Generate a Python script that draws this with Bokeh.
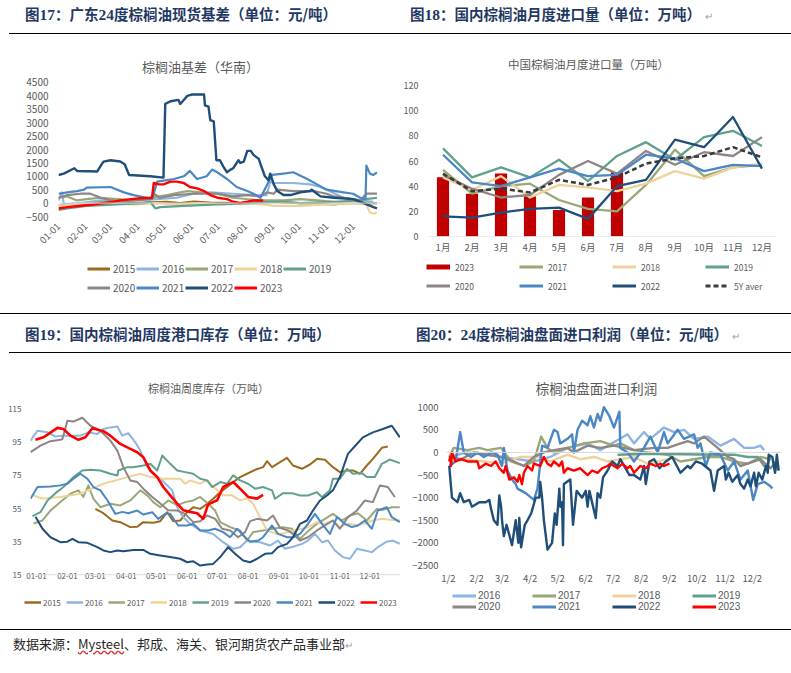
import math
from bokeh.plotting import figure
from bokeh.models import Range1d, FixedTicker, Span, Label, Legend, LegendItem, Div
from bokeh.layouts import column, row
from bokeh.embed import file_html
from bokeh.resources import INLINE

FONT = "Noto Sans CJK SC"
NUMFONT = "Liberation Sans"
GREY = "#595959"

COLORS = {"2015": "#9C6A1E", "2016": "#8DB5E0", "2017": "#9AA777", "2018": "#EDD39B",
          "2019": "#61A08C", "2020": "#8F8585", "2021": "#4A87C4", "2022": "#1F4E79",
          "2023": "#FF0000"}

# ---------------- Chart 17: basis (South China), day-of-year vs yuan/t ----------------
basis_ticks = [0, 31, 59, 90, 120, 151, 181, 212, 243, 273, 304, 334]
basis_tick_labels = ["01-01", "02-01", "03-01", "04-01", "05-01", "06-01",
                     "07-01", "08-01", "09-01", "10-01", "11-01", "12-01"]
basis_yticks = [-500, 0, 500, 1000, 1500, 2000, 2500, 3000, 3500, 4000, 4500]
basis_x_2015 = [0, 25, 48, 66, 85, 104, 123, 138, 153, 172, 198, 236, 274, 312, 327, 361]
basis_y_2015 = [-100, -20, 50, 10, 0, 30, 50, 0, 60, 20, 0, 50, 0, -50, 0, 0]
basis_x_2016 = [0, 4, 6, 25, 48, 85, 112, 134, 153, 172, 198, 221, 236, 240, 244, 266, 285, 297, 304, 323, 342, 357]
basis_y_2016 = [100, 400, -50, 0, 100, 100, 150, 200, 350, 400, 350, 300, 300, 800, 750, 750, 700, 600, 500, 200, 100, 50]
basis_x_2017 = [0, 10, 21, 32, 48, 66, 85, 104, 123, 138, 146, 161, 180, 198, 229, 255, 274, 293, 312, 349, 361]
basis_y_2017 = [200, 250, 100, 150, 200, 150, 100, 200, 300, 400, 450, 400, 350, 200, 100, 100, 150, 100, 50, 0, 0]
basis_x_2018 = [0, 25, 59, 85, 110, 134, 161, 187, 210, 232, 244, 274, 304, 334, 349, 353, 357, 361]
basis_y_2018 = [-100, -50, 0, -50, 0, -50, 0, -50, 0, -50, -100, -100, -50, 0, -50, -350, -400, -350]
basis_x_2019 = [0, 10, 32, 66, 97, 104, 110, 115, 142, 180, 217, 255, 274, 312, 342, 349, 361]
basis_y_2019 = [-250, -200, -100, -50, 0, 50, -200, -150, -100, -50, 0, 50, 0, 50, 100, 150, 200]
basis_x_2020 = [0, 10, 25, 36, 48, 59, 70, 85, 104, 108, 115, 131, 153, 180, 198, 214, 229, 236, 244, 248, 266, 289, 304, 312, 334, 342, 349, 361]
basis_y_2020 = [200, 300, 350, 350, 200, 100, 50, 100, 150, 350, 200, 300, 350, 350, 250, 300, 250, 400, 350, 500, 450, 450, 350, 250, 150, 100, 350, 350]
basis_x_2021 = [0, 10, 21, 29, 32, 59, 74, 85, 100, 106, 112, 131, 142, 149, 157, 168, 174, 180, 191, 202, 214, 221, 229, 242, 255, 266, 282, 293, 304, 323, 334, 342, 348, 349, 353, 357, 361]
basis_y_2021 = [350, 400, 450, 500, 580, 600, 400, 300, 200, 150, 800, 900, 1000, 1200, 900, 1000, 1250, 1150, 900, 600, 450, 350, 200, 1050, 1100, 1150, 900, 700, 500, 400, 350, 200, 150, 1400, 1100, 1050, 1150]
basis_x_2022 = [0, 6, 18, 21, 44, 48, 51, 59, 70, 75, 80, 104, 119, 121, 127, 136, 138, 142, 146, 151, 165, 166, 170, 172, 176, 179, 183, 187, 191, 195, 198, 202, 204, 206, 210, 214, 218, 221, 227, 229, 234, 238, 240, 244, 248, 255, 263, 274, 285, 287, 297, 312, 334, 346, 357, 361]
basis_y_2022 = [1050, 1100, 1300, 1200, 1180, 1400, 1550, 1600, 1550, 1450, 1050, 1000, 950, 3700, 3800, 3850, 3700, 3850, 4000, 4050, 4050, 3650, 3600, 3100, 3050, 1600, 1600, 1350, 1150, 1250, 1300, 1500, 1600, 1500, 1550, 1950, 1950, 1800, 1650, 1450, 1000, 850, 1100, 700, 450, 300, 300, 400, 450, 500, 250, 200, 150, 0, -150, -200]
basis_x_2023 = [0, 10, 25, 40, 51, 63, 70, 82, 93, 106, 108, 114, 119, 127, 134, 142, 149, 157, 165, 172, 180, 191, 198, 206, 214, 221, 232]
basis_y_2023 = [-200, -150, -100, -50, 0, 50, 100, 150, 180, 200, 750, 700, 700, 800, 800, 750, 600, 550, 450, 300, 200, 150, 50, 0, 50, 100, 100]

# ---------------- Chart 18: monthly imports (10k t) ----------------
months = [1, 2, 3, 4, 5, 6, 7, 8, 9, 10, 11, 12]
month_labels = ["1月", "2月", "3月", "4月", "5月", "6月", "7月", "8月", "9月", "10月", "11月", "12月"]
imp_yticks = [0, 20, 40, 60, 80, 100, 120]
imp_2023 = [47, 34, 50, 32, 21, 31, 51]
imp_2017 = [53, 34, 40, 42, 29, 22, 20, 41, 69, 48, 55, 57]
imp_2018 = [47, 37, 48, 31, 41, 39, 36, 42, 52, 46, 55, 58]
imp_2019 = [70, 47, 55, 47, 61, 44, 64, 75, 61, 79, 84, 72]
imp_2020 = [49, 38, 31, 33, 49, 60, 50, 68, 57, 67, 64, 79]
imp_2021 = [65, 43, 40, 47, 54, 48, 49, 65, 62, 52, 57, 56]
imp_2022 = [16, 15, 19, 22, 23, 14, 40, 45, 77, 71, 95, 54]
imp_5y = [50, 36, 38, 35, 45, 41, 47, 58, 62, 64, 71, 63]

# ---------------- Chart 19: weekly port stocks (10k t) ----------------
stock_ticks = [0, 31, 59, 90, 120, 151, 181, 212, 243, 273, 304, 334]
stock_tick_labels = ["01-01", "02-01", "03-01", "04-01", "05-01", "06-01",
                     "07-01", "08-01", "09-01", "10-01", "11-01", "12-01"]
stock_yticks = [15, 35, 55, 75, 95, 115]
stk_x_2015 = [59, 67, 76, 84, 94, 101, 107, 117, 124, 131, 137, 144, 151, 157, 164, 171, 177, 184, 191, 197, 204, 211, 219, 227, 231, 236, 244, 251, 257, 266, 274, 281, 289, 297, 304, 311, 317, 324, 331, 337, 346, 352]
stk_y_2015 = [54.8, 52.2, 47.8, 46.8, 43.8, 44, 46.8, 46.4, 47.4, 52.8, 47.4, 47.8, 52.8, 55.8, 54.8, 57.9, 60.9, 64.9, 68, 71, 74, 76, 78.4, 80, 83.6, 80, 83, 85.6, 81, 79, 81.6, 85, 84.4, 80, 77, 78, 78, 76, 81, 85, 91.7, 92.5]
stk_x_2016 = [-6, 1, 11, 19, 27, 36, 44, 52, 61, 67, 74, 81, 86, 92, 99, 104, 111, 117, 124, 131, 136, 141, 147, 154, 164, 177, 187, 197, 204, 211, 217, 224, 234, 242, 249, 257, 266, 272, 279, 286, 292, 299, 307, 314, 321, 329, 336, 342, 351, 357, 364]
stk_y_2016 = [96, 102, 101, 98.5, 99, 99, 99, 101, 100, 103, 104, 104.5, 99, 100.5, 95, 90, 80, 76, 73, 69, 66, 55.8, 49.8, 45.8, 41.8, 39.7, 34.7, 30.7, 31.7, 35.7, 35, 34.7, 32.7, 35.7, 30.7, 32, 33.7, 35.7, 39.7, 34.7, 35.7, 29.7, 25.7, 24.7, 30.7, 29.7, 28.7, 31.7, 35, 35.7, 33.7]
stk_x_2017 = [-3, 6, 14, 24, 34, 42, 47, 52, 57, 64, 74, 84, 94, 104, 111, 117, 124, 132, 141, 149, 157, 164, 172, 179, 184, 194, 204, 211, 217, 227, 237, 247, 256, 264, 271, 281, 289, 297, 306, 314, 322, 331, 341, 347, 356, 364]
stk_y_2017 = [46, 47.8, 53.8, 58.9, 64, 66, 62, 69, 61, 55.8, 57.9, 56.9, 59.9, 66, 63, 58.9, 55.8, 59.9, 56.9, 58.9, 59.9, 62, 57.9, 53.8, 46.8, 43.8, 41.8, 35.7, 40.8, 41.8, 42.8, 43.8, 42.8, 36.7, 40.8, 45.8, 48.8, 51.8, 47.8, 50.8, 52.2, 47.8, 54.8, 54.2, 55.8, 55.8]
stk_x_2018 = [-4, 6, 24, 44, 67, 91, 104, 114, 127, 144, 149, 154, 164, 171, 181, 187, 196, 204, 211, 217, 224, 231, 241, 247, 257, 266, 272, 281, 289, 297, 304, 312, 321, 329, 337, 346, 354, 364]
stk_y_2018 = [63, 61, 62, 64, 70, 74, 76, 74, 73, 73, 70, 72, 70, 72, 66, 63, 63, 60, 61, 58, 49.8, 41.8, 39.7, 40, 41.8, 42.8, 43.8, 46.8, 45.8, 47.8, 43.8, 45.8, 45, 46, 47.8, 48.8, 48.2, 47.8]
stk_x_2019 = [-4, 4, 11, 19, 27, 37, 46, 54, 64, 74, 81, 82, 91, 97, 107, 114, 121, 126, 134, 141, 149, 157, 164, 171, 176, 184, 191, 197, 204, 212, 219, 227, 236, 239, 247, 256, 264, 272, 281, 286, 294, 297, 304, 311, 317, 326, 331, 339, 346, 354, 364]
stk_y_2019 = [50.4, 52.8, 59.9, 64.3, 68, 74, 78, 78.4, 78, 76, 75, 78, 80, 80, 81, 82, 78, 87, 82, 78, 77, 76, 73, 72, 68, 71, 70, 75, 72, 70, 67, 68, 66, 60.9, 64.3, 64.3, 62.9, 62.9, 64.9, 61.9, 66, 73, 73, 79, 76, 76.4, 74, 74, 82, 84.6, 82.4]
stk_x_2020 = [-6, 4, 14, 24, 26, 31, 37, 46, 54, 64, 74, 81, 87, 94, 101, 107, 116, 124, 132, 141, 149, 157, 164, 171, 179, 186, 194, 202, 209, 214, 221, 231, 237, 244, 252, 257, 264, 272, 281, 289, 297, 304, 312, 321, 329, 337, 344, 352, 359]
stk_y_2020 = [89, 93, 95.7, 96.5, 97, 108, 107.5, 109.8, 105, 102, 96, 90, 80, 72, 71, 67, 62, 58, 54, 53.8, 51.8, 46.8, 47.4, 50.8, 48.8, 42.8, 41.8, 37.7, 40.8, 47.4, 48.8, 47.8, 50.8, 43.4, 41.8, 39.7, 35.7, 37.7, 41.8, 44.8, 47.8, 42.8, 49.8, 53.8, 59.9, 58.9, 68.9, 68, 62]
stk_x_2021 = [-6, 1, 14, 24, 31, 37, 44, 51, 57, 64, 71, 79, 86, 92, 101, 107, 116, 122, 129, 134, 142, 151, 157, 164, 172, 179, 187, 194, 201, 209, 214, 222, 227, 236, 242, 251, 257, 264, 272, 279, 286, 294, 301, 309, 316, 322, 329, 336, 342, 351, 356, 364]
stk_y_2021 = [60.9, 68, 68.3, 69, 70, 73, 76, 73, 68, 66, 60, 51.8, 53, 52.2, 53.8, 51.4, 52.8, 48.8, 51.8, 51.8, 44.8, 44.8, 45.8, 41.8, 41.8, 42.8, 40.8, 37.7, 42.8, 37.7, 35, 35.7, 37.7, 44.8, 39.7, 37.7, 37.7, 39.7, 45.8, 51.8, 45.8, 39.7, 49.8, 45.8, 43.8, 44.8, 47.8, 42.8, 53.8, 55.8, 49.8, 46.8]
stk_x_2022 = [-1, 6, 14, 24, 31, 36, 42, 51, 61, 67, 74, 81, 87, 97, 107, 114, 124, 134, 144, 151, 157, 164, 171, 177, 184, 192, 199, 207, 214, 221, 229, 236, 242, 251, 257, 264, 271, 277, 284, 291, 297, 304, 312, 321, 327, 337, 347, 356, 364]
stk_y_2022 = [50, 42.8, 37.7, 34.7, 35, 36.7, 34.7, 34.3, 31.7, 29.7, 28.7, 29.7, 29.3, 30, 30, 27.7, 26.7, 25.7, 24.7, 22.6, 23.2, 20.6, 21.2, 21.6, 25.7, 31.7, 27.7, 23.6, 22.6, 24.7, 27.7, 28, 31.7, 33.7, 37.7, 45.8, 47.8, 53.8, 59.9, 62.9, 66, 74, 88, 94, 98, 101, 103, 105, 98]
stk_x_2023 = [-1, 7, 21, 27, 34, 42, 49, 56, 67, 74, 84, 94, 101, 107, 114, 121, 127, 134, 141, 147, 154, 161, 167, 172, 181, 187, 197, 204, 212, 221, 227]
stk_y_2023 = [96.5, 98, 103.7, 103, 99, 96.5, 98, 103.5, 101.7, 99, 94, 91, 89, 86, 78, 74, 68, 63, 58, 54, 53, 52.2, 48.8, 57.5, 60, 68, 71, 67, 62, 61, 63.3]

# ---------------- Chart 20: import margin (yuan/t) ----------------
prof_ticks = [0, 31, 59, 90, 120, 151, 181, 212, 243, 273, 304, 334]
prof_tick_labels = ["1/2", "2/2", "3/2", "4/2", "5/2", "6/2", "7/2", "8/2", "9/2", "10/2", "11/2", "12/2"]
prof_yticks = [-2500, -2000, -1500, -1000, -500, 0, 500, 1000]
prof_x_2016 = [1, 21, 58, 94, 112, 131, 153, 167, 197, 204, 215, 222, 237, 248, 259, 270, 285, 299, 314, 325, 336, 343, 347]
prof_y_2016 = [-100, 0, -100, -200, -100, 100, 200, 50, 400, 200, 450, 300, 550, 450, 500, 300, 350, 150, 300, 100, 100, 150, 50]
prof_x_2017 = [1, 6, 21, 34, 43, 58, 69, 83, 94, 102, 109, 116, 131, 149, 167, 182, 189, 204, 219, 241, 255, 270, 285, 299, 314, 329, 343, 354]
prof_y_2017 = [-100, 100, 50, 100, 50, 100, -200, -300, -200, 350, 100, 0, 100, 200, 250, 150, 200, 50, 0, -50, -200, -150, -100, -100, -200, -250, -100, -150]
prof_x_2018 = [1, 21, 58, 79, 101, 112, 131, 145, 160, 175, 189, 204, 219, 241]
prof_y_2018 = [-200, -150, -250, -100, -100, -200, -50, -150, -100, -200, -150, -100, -250, -150]
prof_x_2019 = [186, 222, 259, 296, 314, 329, 340, 347, 351, 354]
prof_y_2019 = [-50, -30, -40, -50, -50, -100, -100, -300, -250, -100]
prof_x_2020 = [1, 14, 28, 43, 58, 72, 83, 94, 105, 116, 131, 138, 153, 167, 182, 204, 226, 241, 248, 263, 270, 281, 296, 307, 314, 321, 336, 343, 351, 354, 360, 362]
prof_y_2020 = [-100, -150, 0, -50, -100, -200, -300, -100, 0, 50, 100, 0, 150, 100, 150, 50, 100, 100, 150, 250, 200, 350, 100, -100, -150, -300, -200, -150, -300, -350, -200, -400]
prof_x_2021 = [1, 8, 13, 17, 25, 32, 39, 47, 54, 59, 61, 65, 70, 74, 76, 85, 94, 98, 103, 109, 116, 120, 123, 131, 136, 138, 142, 147, 153, 156, 160, 164, 167, 171, 177, 182, 188, 189, 197, 204, 215, 222, 230, 237, 241, 252, 259, 270, 274, 277, 283, 288, 299, 307, 314, 321, 329, 335, 340, 347, 354, 356]
prof_y_2021 = [-300, -200, 450, 0, -100, 0, -100, 0, -50, -300, 100, -400, -600, -700, -800, -900, -1050, -800, 150, 100, 500, 450, 200, 300, 400, 0, 500, 700, 600, 800, 550, 850, 700, 1000, 800, 550, 900, 100, 0, -200, 100, 350, 0, 450, 200, 500, 300, 400, 100, 200, -300, 0, -50, -400, -200, -600, -400, -1050, -700, -650, -750, -800]
prof_x_2022 = [1, 4, 10, 13, 17, 23, 26, 34, 41, 45, 47, 50, 54, 56, 58, 59, 61, 64, 70, 74, 77, 78, 80, 84, 87, 91, 96, 100, 101, 103, 105, 109, 114, 117, 119, 122, 123, 125, 126, 127, 134, 137, 141, 147, 151, 153, 155, 162, 164, 167, 170, 175, 180, 186, 189, 199, 204, 211, 215, 217, 221, 226, 232, 239, 246, 255, 263, 266, 272, 279, 288, 292, 296, 303, 305, 308, 312, 318, 321, 325, 329, 332, 336, 338, 341, 345, 349, 351, 352, 356, 359, 361, 363]
prof_y_2022 = [-300, -1000, -1100, -900, -1100, -1050, -1200, -1100, -1100, -1050, -1250, -1500, -1600, -950, -1200, -1500, -1850, -1600, -2050, -1500, -2000, -1450, -2100, -1600, -1500, -1350, -1000, -1000, -650, -1000, -1500, -2150, -2000, -1350, -1600, -800, -1200, -1100, -2050, -700, -600, -1600, -850, -1000, -850, -1200, -850, -1450, -900, -1000, -550, -400, -200, -300, -150, -500, -500, -600, -300, -700, -200, -150, -350, -200, -100, -450, -300, -350, -200, -250, -400, -850, -400, -300, -600, -450, -650, -500, -700, -800, -600, -750, -450, -750, -450, -600, -300, -450, -50, -100, -450, -50, -400]
prof_x_2023 = [1, 2, 3, 4, 8, 14, 21, 32, 34, 41, 47, 52, 56, 61, 63, 67, 72, 76, 78, 81, 83, 87, 92, 94, 101, 105, 109, 113, 116, 122, 125, 127, 131, 138, 145, 153, 158, 164, 169, 175, 178, 186, 191, 197, 200, 204, 211, 217, 222, 228, 233, 237, 243]
prof_y_2023 = [-200, -100, -300, 0, -200, -150, -200, -200, -350, -250, -300, -200, -350, -450, -300, -600, -550, -650, -500, -700, -450, -300, -400, -250, -300, -100, -250, -300, -200, -300, -200, -450, -350, -400, -350, -500, -400, -450, -350, -300, -250, -350, -250, -350, -300, -450, -300, -350, -250, -300, -250, -300, -250]


def clean(p):
    p.outline_line_color = None
    p.grid.visible = False
    p.background_fill_color = "white"
    p.border_fill_color = "white"


def base(w, h, l, r, b, xr, yr):
    # frame starts at the very top of the cell so the chart title can sit inside it
    p = figure(width=w, height=h, x_range=Range1d(*xr), y_range=Range1d(*yr),
               output_backend="svg", toolbar_location=None,
               min_border_left=l, min_border_right=r, min_border_top=0, min_border_bottom=b,
               margin=0)
    clean(p)
    for ax in (p.xaxis[0], p.yaxis[0]):
        ax.axis_line_color = None
        ax.major_tick_line_color = None
        ax.minor_tick_line_color = None
        ax.major_tick_out = 0
        ax.major_tick_in = 0
        ax.minor_tick_out = 0
        ax.minor_tick_in = 0
        ax.major_label_text_color = GREY
        ax.major_label_text_font = FONT
    return p


def legend_fig(w, h):
    p = figure(width=w, height=h, x_range=Range1d(0, w), y_range=Range1d(0, h),
               output_backend="svg", toolbar_location=None, x_axis_location=None,
               y_axis_location=None, min_border=0, margin=0)
    clean(p)
    return p


def title_label(p, x, y, text, size):
    p.add_layout(Label(x=x, y=y, x_units="screen", y_units="screen", text=text,
                       text_align="center", text_baseline="middle", text_font=FONT,
                       text_font_size=size, text_color=GREY))


def legend(p, entries, ncols, loc, gw, gh, standoff, lw, size, font=FONT):
    items = []
    for name, color, width, dash in entries:
        # key-only renderer: a single NaN point, so nothing is drawn in the frame
        r = p.line([math.nan], [math.nan], line_color=color, line_width=width, line_dash=dash)
        items.append(LegendItem(label=name, renderers=[r]))
    lg = Legend(items=items, location=loc, orientation="horizontal", ncols=ncols,
                glyph_width=gw, glyph_height=gh, label_height=gh, label_width=lw,
                label_standoff=standoff, spacing=0, padding=0, margin=0,
                border_line_color=None, background_fill_alpha=0,
                label_text_font=font, label_text_font_size=size, label_text_color=GREY)
    p.add_layout(lg)


# ---- fig 17 ----  (4500 at 42px, -500 at 176px from the cell top; frame bottom at 196px)
p17 = base(400, 216, 58, 20, 20, (0, 365), (-1246, 6067))
p17.yaxis.ticker = FixedTicker(ticks=basis_yticks)
p17.yaxis.major_label_standoff = 10
p17.yaxis.major_label_text_font_size = "10px"
p17.xaxis.ticker = FixedTicker(ticks=basis_ticks)
p17.xaxis.major_label_overrides = dict(zip(basis_ticks, basis_tick_labels))
p17.xaxis.major_label_orientation = math.pi / 4
p17.xaxis.major_label_standoff = -12
p17.xaxis.major_label_text_font_size = "9.5px"
p17.add_layout(Span(location=0, dimension="width", line_color="#D9D9D9", line_width=1))
series17 = [("2015", basis_x_2015, basis_y_2015), ("2016", basis_x_2016, basis_y_2016),
            ("2017", basis_x_2017, basis_y_2017), ("2018", basis_x_2018, basis_y_2018),
            ("2019", basis_x_2019, basis_y_2019), ("2020", basis_x_2020, basis_y_2020),
            ("2021", basis_x_2021, basis_y_2021), ("2022", basis_x_2022, basis_y_2022),
            ("2023", basis_x_2023, basis_y_2023)]
for name, xs, ys in series17:
    p17.line(xs, ys, line_color=COLORS[name], line_width=2.4 if name in ("2022", "2023") else 2.2,
             line_join="round")
title_label(p17, 142, 170, "棕榈油基差（华南）", "13px")
l17 = legend_fig(400, 57)
legend(l17, [(n, COLORS[n], 3, "solid") for n, _, _ in series17], 5, (87, 16), 23, 19, 3, 23, "10px")

# ---- fig 18 ----  (120 at 45px, 0 at 196px)
p18 = base(391, 216, 28, 15, 20, (0.5, 12.5), (0, 155.8))
p18.yaxis.ticker = FixedTicker(ticks=imp_yticks)
p18.yaxis.major_label_standoff = 10
p18.yaxis.major_label_text_font_size = "9px"
p18.xaxis.ticker = FixedTicker(ticks=months)
p18.xaxis.major_label_overrides = dict(zip(months, month_labels))
p18.xaxis.major_label_standoff = 3
p18.xaxis.major_label_text_font_size = "9.5px"
p18.add_layout(Span(location=0, dimension="width", line_color="#D9D9D9", line_width=1))
p18.vbar(x=months[:len(imp_2023)], top=imp_2023, width=0.42, fill_color="#C00000", line_color=None)
line18 = [("2017", imp_2017, COLORS["2017"]), ("2018", imp_2018, COLORS["2018"]),
          ("2019", imp_2019, COLORS["2019"]), ("2020", imp_2020, COLORS["2020"]),
          ("2021", imp_2021, COLORS["2021"]), ("2022", imp_2022, COLORS["2022"])]
for name, ys, c in line18:
    p18.line(months, ys, line_color=c, line_width=2.3, line_join="round")
p18.line(months, imp_5y, line_color="#3A3A3A", line_width=2.5, line_dash="5 3")
title_label(p18, 160, 173, "中国棕榈油月度进口量（万吨）", "11.5px")
l18 = legend_fig(391, 57)
entries18 = ([("2023", "#C00000", 5, "solid")] + [(n, c, 3, "solid") for n, _, c in line18]
             + [("5Y aver", "#3A3A3A", 3, "5 3")])
legend(l18, entries18, 4, (26, 18), 24, 19, 5, 64, "8.5px")

# ---- fig 19 ----  (115 at 55.7px, 15 at 221.3px; frame bottom at 222px)
p19 = base(400, 236, 30, 0, 14, (-6, 364.7), (14.6, 148.6))
p19.yaxis.ticker = FixedTicker(ticks=stock_yticks)
p19.yaxis.major_label_standoff = 9
p19.yaxis.major_label_text_font_size = "8px"
p19.xaxis.ticker = FixedTicker(ticks=stock_ticks)
p19.xaxis.major_label_overrides = dict(zip(stock_ticks, stock_tick_labels))
p19.xaxis.major_label_standoff = -3
p19.xaxis.major_label_text_font_size = "8px"
p19.add_layout(Span(location=15, dimension="width", line_color="#D9D9D9", line_width=1))
series19 = [("2015", stk_x_2015, stk_y_2015), ("2016", stk_x_2016, stk_y_2016),
            ("2017", stk_x_2017, stk_y_2017), ("2018", stk_x_2018, stk_y_2018),
            ("2019", stk_x_2019, stk_y_2019), ("2020", stk_x_2020, stk_y_2020),
            ("2021", stk_x_2021, stk_y_2021), ("2022", stk_x_2022, stk_y_2022),
            ("2023", stk_x_2023, stk_y_2023)]
for name, xs, ys in series19:
    p19.line(xs, ys, line_color=COLORS[name], line_width=2.6 if name == "2023" else 2.0,
             line_join="round")
title_label(p19, 178, 188, "棕榈油周度库存（万吨）", "11px")
l19 = legend_fig(400, 40)
legend(l19, [(n, COLORS[n], 2.5, "solid") for n, _, _ in series19], 9, (24, 21), 17, 12, 2, 23, "8px")

# ---- fig 20 ----  (1000 at 53.7px, -2500 at 212px; frame bottom at 222px)
p20 = base(391, 236, 46, 11, 14, (-2, 365), (-2721, 2187))
p20.yaxis.ticker = FixedTicker(ticks=prof_yticks)
p20.yaxis.major_label_standoff = 8
p20.yaxis.major_label_text_font_size = "9.5px"
p20.xaxis.ticker = FixedTicker(ticks=prof_ticks)
p20.xaxis.major_label_overrides = dict(zip(prof_ticks, prof_tick_labels))
p20.xaxis.major_label_standoff = -5
p20.xaxis.major_label_text_font_size = "9.5px"
p20.add_layout(Span(location=0, dimension="width", line_color="#D9D9D9", line_width=1))
series20 = [("2016", prof_x_2016, prof_y_2016), ("2017", prof_x_2017, prof_y_2017),
            ("2018", prof_x_2018, prof_y_2018), ("2019", prof_x_2019, prof_y_2019),
            ("2020", prof_x_2020, prof_y_2020), ("2021", prof_x_2021, prof_y_2021),
            ("2022", prof_x_2022, prof_y_2022), ("2023", prof_x_2023, prof_y_2023)]
for name, xs, ys in series20:
    p20.line(xs, ys, line_color=COLORS[name], line_width=2.4, line_join="round")
title_label(p20, 150, 188, "棕榈油盘面进口利润", "13.5px")
l20 = legend_fig(391, 40)
legend(l20, [(n, COLORS[n], 3, "solid") for n, _, _ in series20], 4, (52, 17), 24, 11, 2, 54,
       "10px", font=NUMFONT)

# ---------------- document text ----------------
HEAD = ("position:absolute;white-space:nowrap;font-family:'Noto Sans CJK SC';font-weight:bold;"
        "font-size:14.5px;line-height:20px;color:#1F3864;")
SER = "font-family:'Liberation Serif';font-weight:bold;font-size:15.5px;"
RET = "<span style=\"color:#A0A0A0;font-weight:normal;font-size:10px;margin-left:4px;\">↵</span>"


def hline(left, top, width):
    return (f'<div style="position:absolute;left:{left}px;top:{top}px;width:{width}px;'
            f'height:0;border-top:1px solid #000;"></div>')


h1 = ('<div style="position:relative;width:791px;height:40px;">'
      f'<div style="{HEAD}left:25px;top:4px;">图<span style="{SER}">17</span>：广东<span style="{SER}">24</span>度棕榈油现货基差（单位：元/吨）</div>'
      f'<div style="{HEAD}left:410px;top:4px;">图<span style="{SER}">18</span>：国内棕榈油月度进口量（单位：万吨）{RET}</div>'
      + hline(9, 33, 782) + '</div>')
h2 = ('<div style="position:relative;width:791px;height:40px;">'
      + hline(0, 0, 791) +
      f'<div style="{HEAD}left:25px;top:11px;">图<span style="{SER}">19</span>：国内棕榈油周度港口库存（单位：万吨）</div>'
      f'<div style="{HEAD}left:416px;top:11px;">图<span style="{SER}">20</span>：<span style="{SER}">24</span>度棕榈油盘面进口利润（单位：元/吨）{RET}</div>'
      + hline(9, 39, 782) + '</div>')
foot = ('<div style="position:relative;width:791px;height:44px;">'
        + hline(0, 0, 791) +
        '<div style="position:absolute;left:13px;top:5px;white-space:nowrap;font-family:\'Noto Sans CJK SC\';'
        'font-size:13px;line-height:20px;color:#262626;">数据来源：<span style="text-decoration-line:underline;'
        'text-decoration-style:wavy;text-decoration-color:#E03030;">Mysteel</span>、邦成、海关、银河期货农产品事业部'
        '<span style="color:#A0A0A0;font-size:10px;">↵</span></div></div>')

d1 = Div(text=h1, width=791, height=40, margin=0)
d2 = Div(text=h2, width=791, height=40, margin=0)
d3 = Div(text=foot, width=791, height=44, margin=0)

page = column(d1, row(p17, p18, spacing=0), row(l17, l18, spacing=0),
              d2, row(p19, p20, spacing=0), row(l19, l20, spacing=0), d3, spacing=0)

open("out.html", "w").write(file_html(page, INLINE))
